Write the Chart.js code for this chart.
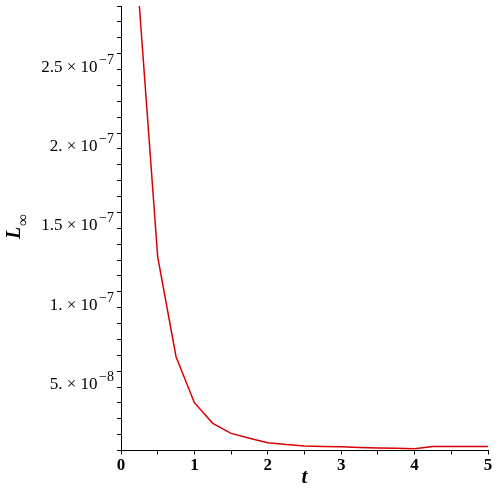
<!DOCTYPE html>
<html>
<head>
<meta charset="utf-8">
<script src="https://cdn.jsdelivr.net/npm/chart.js@4.4.0/dist/chart.umd.min.js"></script>
<style>
  html, body { margin: 0; padding: 0; background: #fff; }
  #wrap { width: 500px; height: 500px; }
</style>
</head>
<body>
<div id="wrap"><canvas id="plot" width="500" height="500"></canvas></div>
<script>
const tValues = [0.25, 0.5, 0.75, 1, 1.25, 1.5, 1.75, 2, 2.25, 2.5, 2.75, 3, 3.25, 3.5, 3.75, 4, 4.25, 4.5, 4.75, 5];
const errValues = [
  2.86e-7, 1.28e-7, 6.51e-8, 3.61e-8, 2.31e-8, 1.68e-8, 1.37e-8, 1.09e-8, 9.8e-9, 8.8e-9,
  8.5e-9, 8.4e-9, 7.9e-9, 7.6e-9, 7.4e-9, 7.1e-9, 8.5e-9, 8.5e-9, 8.5e-9, 8.5e-9
];
const yTickValues = [5e-8, 1e-7, 1.5e-7, 2e-7, 2.5e-7];
const yTickMantissa = ["5.", "1.", "1.5", "2.", "2.5"];
const yTickExponent = ["\u22128", "\u22127", "\u22127", "\u22127", "\u22127"];

const serif = '"Liberation Serif", "DejaVu Serif", serif';

// y tick labels like "2.5 × 10^-7" and the L∞ title need a superscript/subscript
const maplePlugin = {
  id: "mapleText",
  afterDraw(chart) {
    const { ctx } = chart;
    const yScale = chart.scales.y;
    ctx.save();
    ctx.fillStyle = "#000";
    ctx.textBaseline = "alphabetic";
    yTickValues.forEach((value, i) => {
      const py = yScale.getPixelForValue(value);
      ctx.font = `14px ${serif}`;
      const supW = ctx.measureText(yTickExponent[i]).width;
      const supX = 114 - supW;
      ctx.textAlign = "left";
      ctx.fillText(yTickExponent[i], supX, py + 0.5);
      ctx.font = `17px ${serif}`;
      ctx.textAlign = "right";
      ctx.fillText(`${yTickMantissa[i]} \u00d7 10`, supX - 1.5, py + 8.5);
    });

    ctx.translate(20, 239);
    ctx.rotate(-Math.PI / 2);
    ctx.textAlign = "left";
    ctx.font = `italic bold 20px ${serif}`;
    ctx.fillText("L", 0, 0);
    const lw = ctx.measureText("L").width;
    ctx.font = `bold 16px ${serif}`;
    ctx.fillText("\u221e", lw + 1, 8);
    ctx.restore();
  }
};

new Chart(document.getElementById("plot").getContext("2d"), {
  type: "line",
  data: {
    datasets: [
      {
        data: tValues.map((t, i) => ({ x: t, y: errValues[i] })),
        borderColor: "#d80000",
        borderWidth: 1.5,
        pointRadius: 0,
        tension: 0,
        fill: false
      }
    ]
  },
  options: {
    responsive: false,
    animation: false,
    layout: { padding: { top: 6, right: 12, left: 0, bottom: 0 } },
    plugins: {
      legend: { display: false },
      tooltip: { enabled: false }
    },
    scales: {
      x: {
        type: "linear",
        min: 0,
        max: 5,
        border: { display: true, color: "#000", width: 1 },
        grid: { drawOnChartArea: false, drawTicks: true, tickLength: 4, tickColor: "#000" },
        ticks: {
          stepSize: 0.5,
          autoSkip: false,
          maxRotation: 0,
          padding: 1,
          color: "#000",
          font: { family: serif, size: 17, weight: "bold" },
          callback: (v) => (Number.isInteger(v) ? String(v) : "")
        },
        title: {
          display: true,
          text: "t",
          color: "#000",
          font: { family: serif, size: 21, weight: "bold", style: "italic" },
          padding: { top: 0, bottom: 10 }
        },
        afterFit: (scale) => { scale.height = 49.5; }
      },
      y: {
        type: "linear",
        min: 6e-9,
        max: 2.86e-7,
        border: { display: true, color: "#000", width: 1 },
        grid: { drawOnChartArea: false, drawTicks: true, tickLength: 4, tickColor: "#000" },
        ticks: {
          stepSize: 1e-8,
          includeBounds: false,
          autoSkip: false,
          display: false
        },
        afterFit: (scale) => { scale.width = 121; }
      }
    }
  },
  plugins: [maplePlugin]
});
</script>
</body>
</html>
